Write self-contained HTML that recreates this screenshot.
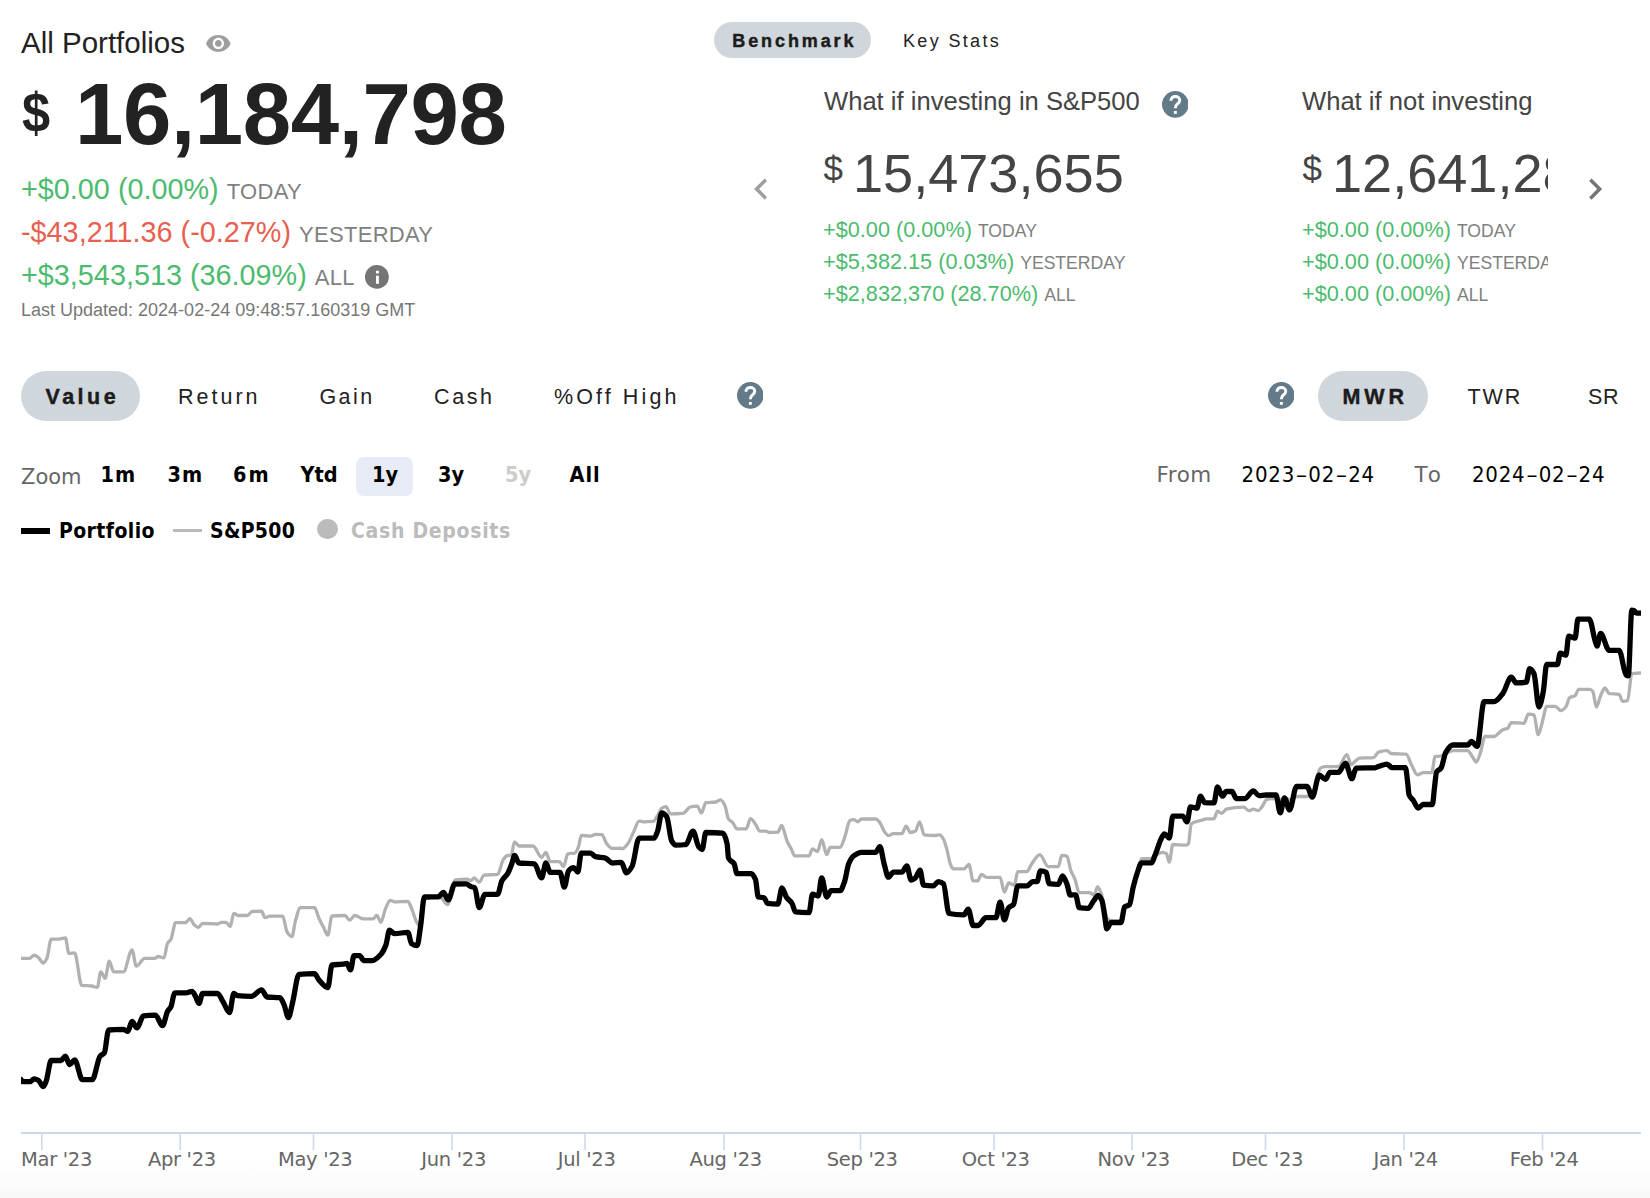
<!DOCTYPE html>
<html><head><meta charset="utf-8"><title>All Portfolios</title>
<style>
*{margin:0;padding:0;box-sizing:border-box}
html,body{width:1650px;height:1198px;overflow:hidden;background:#fff}
body{position:relative;font-family:"Liberation Sans",Arial,sans-serif;color:#222}
.a{position:absolute;white-space:nowrap;line-height:1}
.g{color:#4cbb6e}
.r{color:#e8604f}
.lab{color:#808080}
.pill{position:absolute;background:#d0d7dc;border-radius:999px}
.bk{-webkit-text-stroke:0.45px #1c1c1c}
.tab{font-family:"Liberation Sans",sans-serif;color:#222;font-size:21.5px;top:386.8px}
svg text{white-space:pre}
</style></head><body>
<div class="a" style="left:21px;top:28px;font-size:29.5px;color:#222">All Portfolios</div>
<svg class="a" style="left:206.1px;top:35px" width="24.7" height="16.8" viewBox="1 4.5 22 15"><path fill="#9e9e9e" d="M12 4.5C7 4.5 2.73 7.61 1 12c1.73 4.39 6 7.5 11 7.5s9.27-3.11 11-7.5c-1.73-4.39-6-7.5-11-7.5zM12 17c-2.76 0-5-2.24-5-5s2.24-5 5-5 5 2.24 5 5-2.24 5-5 5zm0-8c-1.66 0-3 1.34-3 3s1.34 3 3 3 3-1.34 3-3-1.34-3-3-3z"/></svg>

<div class="a" style="left:21.5px;top:86px;font-size:55px;font-weight:bold;color:#222;transform:scaleX(0.92);transform-origin:0 0">$</div>
<div class="a" style="left:75px;top:70.4px;font-size:87px;font-weight:bold;color:#222;letter-spacing:-0.4px">16,184,798</div>

<div class="a" style="left:21px;top:175.4px;font-size:28.8px"><span class="g">+$0.00 (0.00%)</span> <span class="lab" style="font-size:22px;letter-spacing:0.3px">TODAY</span></div>
<div class="a" style="left:21px;top:218.2px;font-size:28.8px"><span class="r">-$43,211.36 (-0.27%)</span> <span class="lab" style="font-size:22px;letter-spacing:0.3px">YESTERDAY</span></div>
<div class="a" style="left:21px;top:261.2px;font-size:28.8px"><span class="g">+$3,543,513 (36.09%)</span> <span class="lab" style="font-size:22px;letter-spacing:0.3px">ALL</span></div>
<svg class="a" style="left:365.4px;top:265.3px" width="23.8" height="23.8" viewBox="0 0 23.8 23.8"><circle cx="11.9" cy="11.9" r="11.9" fill="#757575"/><rect x="11" y="5.7" width="2.9" height="2.8" fill="#fff"/><rect x="11" y="10.7" width="2.9" height="8.1" fill="#fff"/></svg>
<div class="a" style="left:21px;top:300.5px;font-size:18px;color:#777">Last Updated: 2024-02-24 09:48:57.160319 GMT</div>

<div class="pill" style="left:714px;top:22px;width:157px;height:36px"></div>
<div class="a bk" style="left:732.3px;top:31.6px;font-size:18px;font-weight:bold;letter-spacing:2.9px;color:#1c1c1c">Benchmark</div>
<div class="a" style="left:903px;top:31.6px;font-size:18px;letter-spacing:2.35px;color:#222">Key Stats</div>

<svg class="a" style="left:739.6px;top:168.4px" width="42.2" height="42.2" viewBox="0 0 24 24"><path d="M15.41 7.41L14 6l-6 6 6 6 1.41-1.41L10.83 12z" fill="#9e9e9e"/></svg>
<svg class="a" style="left:1573.6px;top:168.4px" width="42.2" height="42.2" viewBox="0 0 24 24"><path d="M10 6L8.59 7.41 13.17 12l-4.58 4.59L10 18l6-6z" fill="#757575"/></svg>

<div class="a" style="left:824px;top:89.4px;font-size:25.6px;color:#444">What if investing in S&amp;P500</div>
<svg class="a" style="left:1161.8px;top:91.1px" width="26.7" height="26.7" viewBox="0 0 20 20"><circle cx="10" cy="10" r="10" fill="#637a89"/><path d="M6.7,7.3 C6.7,5 8.3,4.1 10,4.1 C11.9,4.1 13.3,5.3 13.3,7 C13.3,8.6 12.2,9.3 11.2,10.1 C10.4,10.8 10,11.4 10,12.9" fill="none" stroke="#fff" stroke-width="2.2"/><rect x="8.9" y="15" width="2.2" height="2.1" fill="#fff"/></svg>
<div class="a" style="left:823.5px;top:151px;font-size:35px;color:#444">$</div>
<div class="a" style="left:853px;top:146px;font-size:54.1px;color:#444">15,473,655</div>
<div class="a" style="left:823px;top:219px;font-size:21.7px"><span class="g">+$0.00 (0.00%)</span> <span class="lab" style="font-size:17.6px">TODAY</span></div>
<div class="a" style="left:823px;top:251px;font-size:21.7px"><span class="g">+$5,382.15 (0.03%)</span> <span class="lab" style="font-size:17.6px">YESTERDAY</span></div>
<div class="a" style="left:823px;top:283px;font-size:21.7px"><span class="g">+$2,832,370 (28.70%)</span> <span class="lab" style="font-size:17.6px">ALL</span></div>

<div class="a" style="left:1302px;top:89.4px;font-size:25.6px;color:#444">What if not investing</div>
<div style="position:absolute;left:1300px;top:140px;width:248px;height:180px;overflow:hidden">
<div class="a" style="left:2.5px;top:11px;font-size:35px;color:#444">$</div>
<div class="a" style="left:32px;top:6px;font-size:54.1px;color:#444">12,641,288</div>
<div class="a" style="left:2px;top:79px;font-size:21.7px"><span class="g">+$0.00 (0.00%)</span> <span class="lab" style="font-size:17.6px">TODAY</span></div>
<div class="a" style="left:2px;top:111px;font-size:21.7px"><span class="g">+$0.00 (0.00%)</span> <span class="lab" style="font-size:17.6px">YESTERDAY</span></div>
<div class="a" style="left:2px;top:143px;font-size:21.7px"><span class="g">+$0.00 (0.00%)</span> <span class="lab" style="font-size:17.6px">ALL</span></div>
</div>

<div class="pill" style="left:21px;top:371px;width:119px;height:50px"></div>
<div class="a tab bk" style="left:45.5px;font-weight:bold;letter-spacing:3.5px;color:#1c1c1c">Value</div>
<div class="a tab" style="left:178px;letter-spacing:3px">Return</div>
<div class="a tab" style="left:319.5px;letter-spacing:2.4px">Gain</div>
<div class="a tab" style="left:434px;letter-spacing:2.6px">Cash</div>
<div class="a tab" style="left:554px;letter-spacing:3.1px">%Off High</div>
<svg class="a" style="left:736.8px;top:382.1px" width="26.7" height="26.7" viewBox="0 0 20 20"><circle cx="10" cy="10" r="10" fill="#637a89"/><path d="M6.7,7.3 C6.7,5 8.3,4.1 10,4.1 C11.9,4.1 13.3,5.3 13.3,7 C13.3,8.6 12.2,9.3 11.2,10.1 C10.4,10.8 10,11.4 10,12.9" fill="none" stroke="#fff" stroke-width="2.2"/><rect x="8.9" y="15" width="2.2" height="2.1" fill="#fff"/></svg>

<svg class="a" style="left:1267.7px;top:382.1px" width="26.7" height="26.7" viewBox="0 0 20 20"><circle cx="10" cy="10" r="10" fill="#637a89"/><path d="M6.7,7.3 C6.7,5 8.3,4.1 10,4.1 C11.9,4.1 13.3,5.3 13.3,7 C13.3,8.6 12.2,9.3 11.2,10.1 C10.4,10.8 10,11.4 10,12.9" fill="none" stroke="#fff" stroke-width="2.2"/><rect x="8.9" y="15" width="2.2" height="2.1" fill="#fff"/></svg>
<div class="pill" style="left:1318px;top:371px;width:110px;height:50px"></div>
<div class="a tab bk" style="left:1342.5px;font-weight:bold;letter-spacing:3.9px;color:#1c1c1c">MWR</div>
<div class="a tab" style="left:1467.5px;letter-spacing:1.85px">TWR</div>
<div class="a tab" style="left:1588px;letter-spacing:0.7px">SR</div>

<div style="position:absolute;left:356px;top:457px;width:57px;height:39px;background:#e6ebf5;border-radius:8px"></div>
<div style="position:absolute;left:21px;top:528px;width:29px;height:5.5px;background:#000"></div>
<div style="position:absolute;left:173px;top:529px;width:28.5px;height:3px;background:#bbb"></div>
<div style="position:absolute;left:317.3px;top:518.5px;width:20.5px;height:20.5px;border-radius:50%;background:#bbb"></div>

<div style="position:absolute;left:0;top:1162px;width:1650px;height:36px;background:linear-gradient(#fff,#f8f8f8)"></div>

<svg class="a" style="left:0;top:0" width="1650" height="1198" viewBox="0 0 1650 1198">
<g font-family="'DejaVu Sans', sans-serif" font-size="21" fill="#666"><text x="21" y="483.8">Zoom</text></g>
<g font-family="'DejaVu Sans Condensed', 'DejaVu Sans', sans-serif" font-weight="bold" font-size="21.5" fill="#000">
<text x="100.5" y="481.9" letter-spacing="1">1m</text><text x="167.5" y="481.9" letter-spacing="1">3m</text><text x="233" y="481.9" letter-spacing="2">6m</text><text x="300.5" y="481.9">Ytd</text><text x="372" y="481.9">1y</text><text x="438" y="481.9">3y</text><text x="505" y="481.9" fill="#ccc">5y</text><text x="569.5" y="481.9" letter-spacing="1">All</text>
</g>
<g font-family="'DejaVu Sans', sans-serif" font-size="21.5" fill="#666"><text x="1156.5" y="482.1" letter-spacing="0.5">From</text><text x="1414.5" y="482.1" style="font-kerning:none">To</text></g>
<g font-family="'DejaVu Sans Condensed', 'DejaVu Sans', sans-serif" font-size="22" fill="#000"><text y="482.1"><tspan x="1241.5" letter-spacing="0.8">2023</tspan><tspan x="1296.0" dy="3" font-family="IPAGothic, 'DejaVu Sans', sans-serif">-</tspan><tspan x="1308.3" dy="-3" letter-spacing="0.8">02</tspan><tspan x="1336.0" dy="3" font-family="IPAGothic, 'DejaVu Sans', sans-serif">-</tspan><tspan x="1348.2" dy="-3" letter-spacing="0.8">24</tspan></text><text y="482.1"><tspan x="1471.9" letter-spacing="0.8">2024</tspan><tspan x="1526.4" dy="3" font-family="IPAGothic, 'DejaVu Sans', sans-serif">-</tspan><tspan x="1538.7" dy="-3" letter-spacing="0.8">02</tspan><tspan x="1566.4" dy="3" font-family="IPAGothic, 'DejaVu Sans', sans-serif">-</tspan><tspan x="1578.6" dy="-3" letter-spacing="0.8">24</tspan></text></g>
<g font-family="'DejaVu Sans Condensed', 'DejaVu Sans', sans-serif" font-weight="bold" font-size="21"><text x="59" y="537.7" letter-spacing="0.4" fill="#000">Portfolio</text><text x="210" y="537.7" letter-spacing="0.3" fill="#000">S&amp;P500</text><text x="351" y="537.7" letter-spacing="0.7" fill="#bbb">Cash Deposits</text></g>
<line x1="21" y1="1133" x2="1641" y2="1133" stroke="#ccd6eb" stroke-width="2"/>
<line x1="41.8" y1="1133" x2="41.8" y2="1150" stroke="#ccd6eb" stroke-width="1.5"/>
<line x1="180.2" y1="1133" x2="180.2" y2="1150" stroke="#ccd6eb" stroke-width="1.5"/>
<line x1="313.5" y1="1133" x2="313.5" y2="1150" stroke="#ccd6eb" stroke-width="1.5"/>
<line x1="452" y1="1133" x2="452" y2="1150" stroke="#ccd6eb" stroke-width="1.5"/>
<line x1="585" y1="1133" x2="585" y2="1150" stroke="#ccd6eb" stroke-width="1.5"/>
<line x1="724" y1="1133" x2="724" y2="1150" stroke="#ccd6eb" stroke-width="1.5"/>
<line x1="860.5" y1="1133" x2="860.5" y2="1150" stroke="#ccd6eb" stroke-width="1.5"/>
<line x1="994" y1="1133" x2="994" y2="1150" stroke="#ccd6eb" stroke-width="1.5"/>
<line x1="1132" y1="1133" x2="1132" y2="1150" stroke="#ccd6eb" stroke-width="1.5"/>
<line x1="1265.5" y1="1133" x2="1265.5" y2="1150" stroke="#ccd6eb" stroke-width="1.5"/>
<line x1="1404" y1="1133" x2="1404" y2="1150" stroke="#ccd6eb" stroke-width="1.5"/>
<line x1="1542.5" y1="1133" x2="1542.5" y2="1150" stroke="#ccd6eb" stroke-width="1.5"/>
<defs><clipPath id="pc"><rect x="21" y="540" width="1620" height="592"/></clipPath></defs>
<g clip-path="url(#pc)"><path fill="none" stroke="#b1b1b1" stroke-width="3.3" stroke-linejoin="round" stroke-linecap="round" d="M21.0,958.3C24.0,958.3 26.9,958.3 29.9,958.3C31.3,958.3 32.7,955.1 34.1,955.1C35.3,955.1 36.5,956.1 37.7,956.9C39.6,958.2 41.5,963.0 43.4,963.0C44.6,963.0 45.7,960.7 46.9,958.3C48.3,955.4 49.8,939.2 51.2,939.2C53.3,939.2 55.5,939.2 57.6,939.2C60.2,939.2 62.8,938.0 65.4,938.0C66.6,938.0 67.7,953.4 68.9,953.4C70.8,953.4 72.7,952.9 74.6,952.9C77.0,952.9 79.3,985.0 81.7,985.3C85.0,985.8 88.3,985.6 91.6,986.0C93.5,986.2 95.4,987.4 97.3,987.4C98.5,987.4 99.6,971.8 100.8,971.8C102.2,971.8 103.7,978.2 105.1,978.2C106.5,978.2 107.9,961.2 109.3,961.2C110.7,961.2 112.2,971.8 113.6,971.8C116.9,971.8 120.2,971.8 123.5,971.8C126.3,971.8 129.2,949.8 132.0,949.8C133.4,949.8 134.9,966.1 136.3,966.1C139.1,966.1 142.0,958.3 144.8,958.3C148.1,958.3 151.4,958.3 154.7,958.3C155.9,958.3 157.1,956.5 158.3,956.5C160.2,956.5 162.0,957.9 163.9,957.9C165.1,957.9 166.3,945.6 167.5,943.4C168.7,941.2 169.8,941.3 171.0,939.2C172.5,936.5 174.1,922.6 175.6,922.6C178.9,922.6 182.3,922.6 185.6,922.6C187.0,922.6 188.4,918.6 189.8,918.6C191.2,918.6 192.7,923.4 194.1,924.7C195.5,926.0 196.9,927.5 198.3,927.5C199.7,927.5 201.2,923.3 202.6,923.3C207.6,923.3 212.5,924.0 217.5,924.0C218.9,924.0 220.3,922.3 221.7,922.3C223.1,922.3 224.6,922.3 226.0,922.3C227.4,922.3 228.8,926.5 230.2,926.5C231.4,926.5 232.6,913.3 233.8,913.3C235.2,913.3 236.6,915.5 238.0,915.5C241.1,915.5 244.2,915.5 247.3,915.5C248.9,915.5 250.6,911.6 252.2,911.5C255.3,911.3 258.4,911.2 261.5,911.2C262.7,911.2 263.8,917.6 265.0,917.6C266.7,917.6 268.3,916.2 270.0,916.2C274.2,916.2 278.5,916.2 282.7,916.2C284.1,916.2 285.6,929.6 287.0,931.8C288.7,934.4 290.3,936.7 292.0,936.7C293.2,936.7 294.3,924.3 295.5,920.4C297.2,914.8 298.8,907.7 300.5,907.7C305.2,907.7 309.9,907.7 314.6,907.7C316.0,907.7 317.5,915.2 318.9,918.3C320.4,921.6 322.0,924.4 323.5,927.3C324.9,930.0 326.4,935.1 327.8,935.1C329.2,935.1 330.6,916.1 332.0,916.0C336.3,915.6 340.5,915.5 344.8,915.5C346.5,915.5 348.1,920.2 349.8,920.2C351.4,920.2 353.1,915.5 354.7,915.5C357.5,915.5 360.4,918.8 363.2,918.8C366.5,918.8 369.9,918.8 373.2,918.8C374.4,918.8 375.5,915.5 376.7,915.5C378.1,915.5 379.6,922.3 381.0,922.3C382.4,922.3 383.8,912.8 385.2,909.6C386.9,905.8 388.5,900.4 390.2,900.4C391.6,900.4 393.0,901.8 394.4,901.8C398.9,901.8 403.4,901.3 407.9,901.3C409.1,901.3 410.3,905.5 411.5,908.2C413.1,911.8 414.8,918.8 416.4,921.6C417.5,923.5 418.7,926.0 419.8,926.0C421.1,926.0 422.3,899.4 423.6,899.0C429.1,897.4 434.5,897.0 440.0,897.0C442.5,897.0 445.1,904.6 447.6,904.6C450.2,904.6 452.8,880.1 455.4,879.8C459.2,879.3 463.0,879.1 466.8,879.1C468.2,879.1 469.6,880.5 471.0,880.5C472.1,880.5 473.1,877.9 474.2,877.9C475.9,877.9 477.5,882.2 479.2,882.2C480.8,882.2 482.5,875.3 484.1,875.1C488.6,874.6 493.1,874.9 497.6,874.4C499.5,874.2 501.4,862.1 503.3,859.5C504.7,857.6 506.2,855.7 507.6,855.5C508.8,855.3 509.9,855.4 511.1,855.2C512.3,855.0 513.4,841.8 514.6,841.8C516.0,841.8 517.5,846.0 518.9,846.0C523.6,846.0 528.4,846.0 533.1,846.0C535.9,846.0 538.8,857.4 541.6,857.4C543.0,857.4 544.5,852.4 545.9,852.4C547.3,852.4 548.7,861.6 550.1,861.6C553.2,861.6 556.2,861.6 559.3,861.6C560.7,861.6 562.2,866.6 563.6,866.6C565.0,866.6 566.4,854.1 567.8,853.8C570.2,853.3 572.5,853.6 574.9,853.1C576.1,852.9 577.3,849.7 578.5,846.7C579.4,844.4 580.4,835.4 581.3,835.4C584.4,835.4 587.4,836.1 590.5,836.1C592.2,836.1 593.8,834.3 595.5,834.3C597.6,834.3 599.8,834.4 601.9,834.7C603.5,834.9 605.2,841.9 606.8,843.9C608.5,845.9 610.1,848.4 611.8,848.4C614.9,848.4 617.9,848.2 621.0,848.2C621.4,848.2 621.7,848.8 622.1,848.8C624.0,848.8 625.9,846.1 627.8,843.8C629.7,841.5 631.5,836.2 633.4,832.5C635.3,828.7 637.2,821.1 639.1,821.1C640.5,821.1 642.0,821.8 643.4,821.8C646.7,821.8 650.0,821.7 653.3,821.4C654.7,821.3 656.2,817.7 657.6,815.5C659.0,813.3 660.4,808.9 661.8,808.1C663.2,807.3 664.7,806.7 666.1,806.7C667.5,806.7 668.9,813.8 670.3,813.8C674.6,813.8 678.8,813.6 683.1,813.3C685.5,813.1 687.8,807.5 690.2,807.0C692.6,806.5 694.9,806.2 697.3,806.2C698.7,806.2 700.1,812.9 701.5,812.9C702.9,812.9 704.4,802.9 705.8,802.7C709.1,802.2 712.4,802.4 715.7,802.0C717.4,801.8 719.0,799.9 720.7,799.9C722.1,799.9 723.5,802.7 724.9,805.5C726.1,807.9 727.3,817.3 728.5,819.0C729.9,821.0 731.3,821.1 732.7,822.6C734.1,824.1 735.6,828.9 737.0,828.9C740.1,828.9 743.1,828.9 746.2,828.9C747.6,828.9 749.1,818.6 750.5,818.6C752.1,818.6 753.8,821.8 755.4,824.0C756.8,825.9 758.3,831.1 759.7,831.1C761.6,831.1 763.5,831.1 765.4,831.1C766.8,831.1 768.2,832.5 769.6,832.5C772.3,832.5 775.1,832.4 777.8,832.2C779.1,832.1 780.4,825.4 781.7,825.4C782.8,825.4 783.8,830.7 784.9,833.9C785.6,836.0 786.3,839.3 787.0,841.0C788.4,844.5 789.8,846.1 791.2,848.8C792.4,851.1 793.6,855.9 794.8,855.9C799.5,855.9 804.3,855.9 809.0,855.9C810.2,855.9 811.3,848.8 812.5,848.8C814.2,848.8 815.8,851.6 817.5,851.6C818.9,851.6 820.3,839.6 821.7,839.6C823.4,839.6 825.0,854.5 826.7,854.5C827.9,854.5 829.0,847.4 830.2,847.4C833.5,847.4 836.9,847.4 840.2,847.4C841.6,847.4 843.0,841.8 844.4,838.2C846.3,833.4 848.2,821.1 850.1,820.4C851.3,820.0 852.5,819.7 853.7,819.7C855.1,819.7 856.5,821.8 857.9,821.8C859.1,821.8 860.3,819.0 861.5,819.0C866.2,819.0 870.9,819.0 875.6,819.0C877.0,819.0 878.5,820.9 879.9,822.6C881.3,824.3 882.7,829.2 884.1,831.1C885.5,833.1 887.0,835.6 888.4,835.6C890.1,835.6 891.7,833.6 893.4,833.6C896.2,833.6 899.1,833.6 901.9,833.6C903.3,833.6 904.7,826.1 906.1,826.1C907.5,826.1 909.0,832.5 910.4,832.5C912.1,832.5 913.7,831.9 915.4,831.1C916.8,830.4 918.2,821.8 919.6,821.8C921.1,821.8 922.7,834.6 924.2,834.8C927.8,835.3 931.3,835.5 934.9,835.5C936.5,835.5 938.2,834.8 939.8,834.8C941.0,834.8 942.2,837.0 943.4,839.0C944.6,841.0 945.7,845.5 946.9,849.6C948.1,853.8 949.3,861.9 950.5,864.5C951.4,866.6 952.4,868.8 953.3,868.8C956.8,868.8 960.4,868.8 963.9,868.8C965.6,868.8 967.2,864.5 968.9,864.5C970.3,864.5 971.8,880.9 973.2,880.9C974.6,880.9 976.0,880.9 977.4,880.9C978.8,880.9 980.3,874.5 981.7,874.5C983.3,874.5 985.0,877.3 986.6,877.3C991.1,877.3 995.6,877.3 1000.1,877.3C1001.5,877.3 1003.0,892.2 1004.4,892.2C1005.8,892.2 1007.2,883.0 1008.6,883.0C1010.5,883.0 1012.4,885.1 1014.3,885.1C1015.5,885.1 1016.6,871.6 1017.8,871.6C1020.9,871.6 1024.0,871.6 1027.1,871.6C1028.5,871.6 1029.9,866.5 1031.3,864.5C1034.1,860.5 1037.0,854.6 1039.8,854.6C1042.6,854.6 1045.5,866.7 1048.3,866.7C1051.6,866.7 1055.0,866.7 1058.3,866.7C1059.5,866.7 1060.6,855.3 1061.8,855.3C1063.5,855.3 1065.1,855.5 1066.8,856.0C1068.2,856.4 1069.6,867.2 1071.0,870.9C1072.3,874.4 1073.7,876.0 1075.0,879.4C1076.4,883.0 1077.8,892.7 1079.2,892.7C1082.5,892.7 1085.8,892.7 1089.1,892.7C1090.8,892.7 1092.4,894.8 1094.1,894.8C1095.3,894.8 1096.4,887.0 1097.6,887.0C1098.8,887.0 1100.0,890.6 1101.2,893.4C1103.3,898.5 1105.5,917.0 1107.6,918.9C1109.0,920.1 1110.4,921.1 1111.8,921.1C1114.9,921.1 1117.9,921.1 1121.0,921.0C1122.2,921.0 1123.4,906.9 1124.6,906.0C1126.2,904.7 1127.9,905.3 1129.5,904.0C1130.7,903.1 1131.9,892.5 1133.1,887.7C1134.5,882.1 1135.9,877.6 1137.3,872.8C1138.7,867.9 1140.2,858.7 1141.6,858.7C1144.4,858.7 1147.3,858.7 1150.1,858.7C1152.0,858.7 1153.9,856.0 1155.8,855.1C1158.2,853.9 1160.5,852.3 1162.9,852.3C1164.1,852.3 1165.2,852.9 1166.4,853.7C1167.4,854.4 1168.3,862.2 1169.3,862.2C1170.5,862.2 1171.6,844.5 1172.8,844.5C1177.1,844.5 1181.3,845.2 1185.6,845.2C1186.5,845.2 1187.5,844.7 1188.4,843.8C1189.3,842.9 1190.3,824.7 1191.2,823.9C1194.5,821.2 1197.9,821.4 1201.2,820.4C1203.1,819.8 1204.9,818.9 1206.8,818.9C1209.2,818.9 1211.5,818.9 1213.9,818.9C1215.1,818.9 1216.3,811.1 1217.5,811.1C1218.9,811.1 1220.3,813.3 1221.7,813.3C1223.2,813.3 1224.8,809.6 1226.3,809.2C1232.0,807.8 1237.7,807.1 1243.4,807.1C1245.3,807.1 1247.1,810.6 1249.0,810.6C1250.4,810.6 1251.9,809.2 1253.3,809.2C1255.0,809.2 1256.6,810.6 1258.3,810.6C1259.5,810.6 1260.6,808.5 1261.8,807.1C1263.5,805.1 1265.1,799.7 1266.8,799.3C1268.4,798.9 1270.1,798.6 1271.7,798.6C1274.5,798.6 1277.2,799.5 1280.0,799.5C1283.3,799.5 1286.7,799.5 1290.0,799.5C1292.4,799.5 1294.9,796.5 1297.3,796.5C1300.6,796.5 1303.9,796.5 1307.2,796.5C1309.3,796.5 1311.4,795.6 1313.5,794.0C1315.2,792.7 1316.8,776.3 1318.5,772.0C1319.2,770.3 1319.8,768.5 1320.5,768.1C1322.0,767.2 1323.4,766.7 1324.9,766.7C1329.4,766.7 1333.9,766.7 1338.4,766.7C1341.2,766.7 1344.1,754.6 1346.9,754.6C1348.3,754.6 1349.8,764.5 1351.2,764.5C1352.6,764.5 1354.0,762.0 1355.4,761.0C1356.8,760.0 1358.3,758.3 1359.7,758.2C1364.3,757.8 1368.9,758.1 1373.5,757.7C1375.2,757.6 1376.8,752.6 1378.5,752.1C1381.3,751.2 1384.2,750.6 1387.0,750.6C1388.4,750.6 1389.8,753.4 1391.2,753.5C1396.2,754.0 1401.1,753.7 1406.1,754.2C1408.0,754.4 1409.9,762.1 1411.8,765.5C1413.7,768.9 1415.6,774.8 1417.5,774.8C1419.4,774.8 1421.3,772.6 1423.2,772.6C1426.0,772.6 1428.9,772.6 1431.7,772.6C1432.9,772.6 1434.0,756.3 1435.2,756.3C1436.4,756.3 1437.6,756.3 1438.8,756.3C1442.1,756.3 1445.4,753.4 1448.7,752.1C1450.1,751.6 1451.5,750.6 1452.9,750.6C1457.9,750.6 1462.8,750.6 1467.8,750.6C1469.2,750.6 1470.7,754.4 1472.1,756.3C1473.5,758.2 1474.9,762.0 1476.3,762.0C1477.7,762.0 1479.2,756.1 1480.6,752.1C1482.0,748.1 1483.5,736.5 1484.9,736.5C1488.0,736.5 1491.0,736.5 1494.1,736.5C1497.0,736.5 1499.9,730.9 1502.8,729.7C1504.4,729.0 1506.1,729.1 1507.7,728.3C1508.9,727.7 1510.1,722.6 1511.3,722.6C1515.5,722.6 1519.8,723.3 1524.0,723.3C1525.4,723.3 1526.9,714.1 1528.3,714.1C1530.2,714.1 1532.1,714.3 1534.0,714.8C1535.4,715.2 1536.8,734.7 1538.2,734.7C1539.6,734.7 1541.1,726.0 1542.5,721.2C1543.9,716.5 1545.3,706.3 1546.7,706.3C1549.5,706.3 1552.4,706.3 1555.2,706.3C1557.1,706.3 1559.0,710.6 1560.9,710.6C1562.6,710.6 1564.2,708.9 1565.9,707.0C1567.1,705.6 1568.2,698.6 1569.4,697.8C1571.3,696.5 1573.2,696.9 1575.1,695.7C1576.3,694.9 1577.5,689.3 1578.7,689.3C1582.5,689.3 1586.2,689.3 1590.0,689.3C1590.9,689.3 1591.9,690.2 1592.8,691.4C1594.0,692.9 1595.2,707.0 1596.4,707.0C1597.8,707.0 1599.2,698.7 1600.6,695.7C1602.0,692.6 1603.5,687.9 1604.9,687.9C1606.3,687.9 1607.7,693.3 1609.1,693.5C1612.4,694.1 1615.8,693.7 1619.1,694.3C1620.3,694.5 1621.4,701.3 1622.6,701.3C1624.3,701.3 1625.9,701.1 1627.6,700.6C1629.0,700.2 1630.4,674.0 1631.8,673.7C1634.7,673.2 1637.5,673.2 1640.4,673.0"/>
<path fill="none" stroke="#000" stroke-width="5.3" stroke-linejoin="round" stroke-linecap="round" d="M21.0,1079.5C21.5,1080.2 22.1,1081.7 22.6,1081.7C25.0,1081.7 27.5,1081.7 29.9,1081.7C31.3,1081.7 32.7,1078.9 34.1,1078.9C35.5,1078.9 37.0,1079.6 38.4,1080.3C40.1,1081.2 41.7,1086.7 43.4,1086.7C44.3,1086.7 45.3,1083.5 46.2,1081.0C47.9,1076.6 49.5,1060.5 51.2,1060.5C54.5,1060.5 57.8,1060.5 61.1,1060.5C62.5,1060.5 64.0,1056.2 65.4,1056.2C66.8,1056.2 68.2,1064.7 69.6,1064.7C71.3,1064.7 72.9,1059.8 74.6,1059.8C77.2,1059.8 79.8,1079.6 82.4,1079.6C85.7,1079.6 89.0,1079.6 92.3,1079.6C94.9,1079.6 97.5,1059.4 100.1,1056.2C101.5,1054.5 103.0,1054.7 104.4,1052.7C105.8,1050.7 107.2,1030.2 108.6,1030.0C113.6,1029.4 118.5,1029.3 123.5,1029.3C124.9,1029.3 126.4,1031.4 127.8,1031.4C129.2,1031.4 130.6,1021.5 132.0,1021.5C133.7,1021.5 135.3,1027.8 137.0,1027.8C139.1,1027.8 141.3,1016.1 143.4,1015.8C147.4,1015.3 151.4,1015.1 155.4,1015.1C157.8,1015.1 160.1,1025.7 162.5,1025.7C164.2,1025.7 165.8,1014.6 167.5,1011.5C168.7,1009.4 169.8,1009.0 171.0,1006.6C172.2,1004.2 173.4,993.5 174.6,993.1C175.2,992.9 175.7,992.8 176.3,992.8C179.6,992.8 183.0,992.8 186.3,992.8C188.2,992.8 190.1,991.3 192.0,991.3C193.2,991.3 194.3,994.3 195.5,996.3C196.7,998.3 197.8,1003.4 199.0,1003.4C200.2,1003.4 201.4,993.5 202.6,993.5C207.6,993.5 212.5,993.5 217.5,993.5C219.4,993.5 221.3,999.0 223.2,1002.0C225.3,1005.3 227.4,1012.6 229.5,1012.6C230.9,1012.6 232.4,993.5 233.8,993.5C235.0,993.5 236.1,995.5 237.3,995.6C242.0,996.1 246.8,996.3 251.5,996.3C254.8,996.3 258.2,989.9 261.5,989.9C263.4,989.9 265.2,996.8 267.1,997.0C271.4,997.5 275.6,997.2 279.9,997.7C281.3,997.9 282.7,1001.8 284.1,1004.8C285.5,1007.9 287.0,1017.6 288.4,1017.6C289.8,1017.6 291.3,1007.7 292.7,1002.0C294.8,993.7 296.9,974.5 299.0,974.3C304.2,973.8 309.4,973.6 314.6,973.6C316.0,973.6 317.5,978.4 318.9,980.0C321.9,983.3 324.8,987.6 327.8,987.6C329.2,987.6 330.6,965.1 332.0,964.9C335.6,964.4 339.1,964.6 342.7,964.2C344.1,964.1 345.5,963.5 346.9,963.5C348.1,963.5 349.3,969.9 350.5,969.9C351.7,969.9 352.8,955.7 354.0,955.7C355.9,955.7 357.8,955.7 359.7,955.7C361.1,955.7 362.5,960.6 363.9,960.6C366.7,960.6 369.6,960.6 372.4,960.6C375.3,960.6 378.1,957.5 381.0,954.3C382.6,952.5 384.3,949.3 385.9,945.0C387.1,941.8 388.3,930.1 389.5,930.1C391.1,930.1 392.8,933.7 394.4,933.7C398.9,933.7 403.4,932.3 407.9,932.3C409.1,932.3 410.3,942.7 411.5,943.6C413.4,944.9 415.2,945.7 417.1,945.7C418.3,945.7 419.4,933.5 420.6,926.0C421.9,917.8 423.1,897.0 424.4,897.0C429.1,896.8 433.7,897.0 438.4,896.8C440.1,896.7 441.7,892.3 443.4,892.3C445.0,892.3 446.7,899.9 448.3,899.9C450.4,899.9 452.6,884.1 454.7,884.0C458.5,883.9 462.3,883.8 466.1,883.8C467.7,883.8 469.4,885.9 471.0,886.6C472.3,887.1 473.6,887.1 474.9,887.9C476.3,888.8 477.8,907.7 479.2,907.7C481.1,907.7 483.0,894.3 484.9,894.3C489.1,894.3 493.4,894.3 497.6,894.3C499.0,894.3 500.5,883.4 501.9,880.8C503.8,877.3 505.7,876.8 507.6,873.7C509.0,871.4 510.4,867.5 511.8,863.8C512.7,861.3 513.7,855.5 514.6,855.5C516.0,855.5 517.5,862.8 518.9,863.0C524.1,863.6 529.3,863.2 534.5,863.8C536.9,864.1 539.2,877.9 541.6,877.9C543.0,877.9 544.5,863.0 545.9,863.0C547.3,863.0 548.7,872.3 550.1,872.3C553.4,872.3 556.7,872.3 560.0,872.3C561.4,872.3 562.9,887.2 564.3,887.2C565.7,887.2 567.1,872.5 568.5,870.9C570.2,869.0 571.8,867.7 573.5,867.7C574.9,867.7 576.4,872.0 577.8,872.0C579.0,872.0 580.1,853.1 581.3,853.1C584.4,853.1 587.4,853.1 590.5,853.1C592.2,853.1 593.8,856.3 595.5,856.7C598.8,857.5 602.1,857.3 605.4,858.1C607.8,858.7 610.1,863.0 612.5,863.0C615.5,863.0 618.4,862.3 621.4,862.3C623.0,862.3 624.7,872.9 626.3,872.9C628.2,872.9 630.1,869.8 632.0,866.5C634.4,862.4 636.7,838.2 639.1,838.2C644.1,838.2 649.0,838.2 654.0,838.2C655.2,838.2 656.4,834.3 657.6,831.1C659.0,827.3 660.4,812.9 661.8,812.9C663.5,812.9 665.1,814.6 666.8,816.9C668.4,819.2 670.1,838.4 671.7,841.0C673.1,843.3 674.6,845.2 676.0,845.2C679.3,845.2 682.6,845.0 685.9,844.5C688.3,844.2 690.6,831.1 693.0,831.1C694.9,831.1 696.8,844.4 698.7,846.7C699.9,848.1 701.0,849.5 702.2,849.5C703.4,849.5 704.6,832.5 705.8,832.5C711.5,832.5 717.1,832.6 722.8,833.2C724.2,833.3 725.7,837.5 727.1,843.8C727.6,845.9 728.0,857.0 728.5,858.0C730.4,862.1 732.2,860.6 734.1,863.7C735.1,865.3 736.0,873.6 737.0,873.6C741.7,873.6 746.5,873.6 751.2,873.6C752.6,873.6 754.0,876.1 755.4,879.3C756.4,881.5 757.3,896.7 758.3,897.0C760.2,897.5 762.1,897.2 764.0,897.7C765.2,898.0 766.3,903.2 767.5,903.4C770.9,903.9 774.4,904.1 777.8,904.1C779.2,904.1 780.6,887.8 782.0,887.8C783.4,887.8 784.9,894.9 786.3,897.0C788.2,899.8 790.1,900.4 792.0,903.4C793.2,905.2 794.3,911.8 795.5,911.9C800.0,912.5 804.5,912.6 809.0,912.6C810.2,912.6 811.3,894.2 812.5,894.2C814.4,894.2 816.3,896.0 818.2,896.0C819.4,896.0 820.5,877.9 821.7,877.9C823.4,877.9 825.0,897.0 826.7,897.0C828.1,897.0 829.6,890.6 831.0,890.6C834.1,890.6 837.1,890.6 840.2,890.6C841.6,890.6 843.0,885.9 844.4,882.1C845.8,878.2 847.3,867.0 848.7,863.7C850.4,859.8 852.0,857.1 853.7,855.9C856.3,854.0 858.9,852.3 861.5,852.3C866.2,852.3 870.9,852.3 875.6,852.3C877.0,852.3 878.5,846.7 879.9,846.7C881.3,846.7 882.7,858.7 884.1,863.7C885.5,868.8 887.0,877.2 888.4,877.2C890.1,877.2 891.7,872.2 893.4,872.2C896.2,872.2 899.1,872.2 901.9,872.2C903.5,872.2 905.2,865.8 906.8,865.8C908.2,865.8 909.7,880.0 911.1,880.0C912.5,880.0 914.0,879.0 915.4,877.9C916.9,876.7 918.5,870.2 920.0,870.2C921.2,870.2 922.3,884.9 923.5,885.1C926.8,885.6 930.1,885.8 933.4,885.8C935.1,885.8 936.7,881.6 938.4,881.6C940.1,881.6 941.7,882.4 943.4,883.7C945.3,885.1 947.1,913.1 949.0,913.5C954.0,914.6 958.9,914.9 963.9,914.9C965.3,914.9 966.8,909.2 968.2,909.2C969.9,909.2 971.5,925.5 973.2,925.5C974.8,925.5 976.5,925.5 978.1,925.5C980.7,925.5 983.3,917.7 985.9,917.7C989.2,917.7 992.6,917.7 995.9,917.7C997.3,917.7 998.7,902.1 1000.1,902.1C1001.5,902.1 1003.0,919.9 1004.4,919.9C1005.8,919.9 1007.2,909.4 1008.6,907.8C1010.3,905.9 1011.9,906.4 1013.6,904.3C1015.0,902.6 1016.4,885.8 1017.8,885.8C1020.9,885.8 1024.0,885.8 1027.1,885.8C1029.0,885.8 1030.8,881.6 1032.7,881.6C1034.1,881.6 1035.6,881.6 1037.0,881.6C1038.2,881.6 1039.3,870.9 1040.5,870.9C1042.4,870.9 1044.3,871.3 1046.2,872.3C1047.1,872.8 1048.1,883.5 1049.0,883.7C1052.1,884.3 1055.2,884.4 1058.3,884.4C1059.7,884.4 1061.1,875.9 1062.5,875.9C1063.9,875.9 1065.4,880.3 1066.8,883.7C1068.0,886.4 1069.1,895.0 1070.3,895.0C1072.1,895.0 1073.8,894.8 1075.6,894.8C1076.8,894.8 1078.0,907.4 1079.2,907.6C1082.3,908.1 1085.3,908.3 1088.4,908.3C1090.1,908.3 1091.7,903.3 1093.4,901.2C1095.0,899.1 1096.7,895.5 1098.3,895.5C1099.5,895.5 1100.7,897.8 1101.9,900.5C1102.8,902.6 1103.8,910.7 1104.7,916.1C1105.4,920.2 1106.1,928.9 1106.8,928.9C1108.2,928.9 1109.7,922.5 1111.1,922.5C1114.4,922.5 1117.7,922.5 1121.0,922.5C1122.2,922.5 1123.4,907.9 1124.6,906.9C1126.2,905.6 1127.9,906.1 1129.5,904.8C1130.7,903.8 1131.9,892.6 1133.1,887.7C1134.5,882.0 1135.9,876.7 1137.3,872.8C1138.7,868.8 1140.2,862.9 1141.6,862.9C1144.9,862.9 1148.2,862.9 1151.5,862.9C1152.7,862.9 1153.9,857.9 1155.1,855.1C1157.2,850.1 1159.4,842.1 1161.5,838.1C1162.4,836.3 1163.4,833.8 1164.3,833.8C1166.0,833.8 1167.6,838.1 1169.3,838.1C1170.5,838.1 1171.6,816.1 1172.8,816.1C1176.1,816.1 1179.4,816.1 1182.7,816.1C1184.1,816.1 1185.6,821.8 1187.0,821.8C1188.2,821.8 1189.3,806.9 1190.5,806.9C1192.6,806.9 1194.8,808.3 1196.9,808.3C1198.1,808.3 1199.3,796.2 1200.5,796.2C1201.9,796.2 1203.3,802.5 1204.7,802.6C1207.8,802.8 1210.8,802.9 1213.9,802.9C1215.1,802.9 1216.3,787.0 1217.5,787.0C1219.1,787.0 1220.8,796.2 1222.4,796.2C1223.7,796.2 1225.0,791.5 1226.3,791.5C1228.2,791.5 1230.1,791.5 1232.0,791.5C1233.4,791.5 1234.9,798.6 1236.3,798.6C1239.1,798.6 1242.0,798.6 1244.8,798.6C1247.6,798.6 1250.5,790.8 1253.3,790.8C1255.2,790.8 1257.1,795.7 1259.0,795.7C1261.4,795.7 1263.7,795.0 1266.1,795.0C1269.4,795.0 1272.7,795.0 1276.0,795.0C1277.4,795.0 1278.8,812.8 1280.2,812.8C1281.6,812.8 1283.1,797.9 1284.5,797.9C1286.2,797.9 1287.8,809.9 1289.5,809.9C1291.9,809.9 1294.2,786.5 1296.6,786.5C1300.1,786.5 1303.7,786.5 1307.2,786.5C1308.9,786.5 1310.5,797.2 1312.2,797.2C1314.6,797.2 1316.9,775.2 1319.3,775.2C1321.4,775.2 1323.5,779.4 1325.6,779.4C1327.0,779.4 1328.5,772.3 1329.9,772.3C1332.7,772.3 1335.6,772.3 1338.4,772.3C1340.8,772.3 1343.1,763.1 1345.5,763.1C1347.6,763.1 1349.8,778.7 1351.9,778.7C1353.3,778.7 1354.7,768.2 1356.1,768.1C1362.4,767.8 1368.7,768.0 1375.0,767.8C1376.4,767.7 1377.8,766.6 1379.2,766.2C1381.8,765.4 1384.4,764.1 1387.0,764.1C1388.7,764.1 1390.3,767.7 1392.0,767.7C1396.5,767.7 1400.9,767.7 1405.4,767.7C1406.1,767.7 1406.9,776.2 1407.6,781.8C1408.1,785.4 1408.5,793.3 1409.0,794.6C1410.4,798.4 1411.8,798.3 1413.2,800.3C1414.9,802.7 1416.5,808.1 1418.2,808.1C1419.9,808.1 1421.5,804.5 1423.2,804.5C1426.3,804.5 1429.3,804.5 1432.4,804.5C1433.1,804.5 1433.8,792.9 1434.5,787.5C1435.2,782.1 1435.9,773.0 1436.6,771.9C1438.0,769.6 1439.5,770.2 1440.9,768.4C1442.6,766.3 1444.2,754.8 1445.9,752.1C1448.2,748.4 1450.6,745.0 1452.9,745.0C1457.9,745.0 1462.8,745.0 1467.8,745.0C1469.0,745.0 1470.2,741.4 1471.4,741.4C1473.3,741.4 1475.2,746.4 1477.1,746.4C1479.4,746.4 1481.8,701.7 1484.1,701.7C1487.4,701.7 1490.8,701.7 1494.1,701.7C1497.0,701.7 1499.9,697.2 1502.8,693.5C1505.6,689.9 1508.5,677.2 1511.3,677.2C1512.9,677.2 1514.6,682.9 1516.2,682.9C1519.5,682.9 1522.9,682.7 1526.2,682.2C1527.4,682.0 1528.5,668.7 1529.7,668.7C1531.1,668.7 1532.6,670.9 1534.0,673.7C1535.6,676.9 1537.3,707.0 1538.9,707.0C1540.3,707.0 1541.8,699.1 1543.2,692.1C1544.4,686.4 1545.5,664.5 1546.7,664.5C1550.3,664.5 1553.8,664.5 1557.4,664.5C1558.3,664.5 1559.3,653.1 1560.2,653.1C1562.1,653.1 1564.0,655.2 1565.9,655.2C1566.8,655.2 1567.8,636.1 1568.7,636.1C1570.8,636.1 1573.0,638.2 1575.1,638.2C1576.0,638.2 1577.0,619.1 1577.9,619.1C1581.7,619.1 1585.5,619.1 1589.3,619.1C1591.2,619.1 1593.1,634.6 1595.0,640.4C1595.7,642.5 1596.4,646.0 1597.1,646.0C1598.3,646.0 1599.4,633.3 1600.6,633.3C1603.4,633.3 1606.3,650.3 1609.1,650.3C1612.4,650.3 1615.8,650.3 1619.1,650.3C1621.5,650.3 1623.8,673.8 1626.2,675.1C1626.9,675.5 1627.6,675.8 1628.3,675.8C1629.5,675.8 1630.6,610.2 1631.8,610.2C1632.5,610.2 1633.3,610.3 1634.0,610.5C1634.9,610.7 1635.9,613.2 1636.8,613.2C1638.0,613.2 1639.2,613.2 1640.4,613.2"/></g>
<g font-family="&#39;DejaVu Sans&#39;, sans-serif" font-size="19.5" letter-spacing="-0.3" fill="#666"><text x="21" y="1166.2">Mar &#39;23</text>
<text x="181.9" y="1166.2" text-anchor="middle">Apr &#39;23</text>
<text x="315.2" y="1166.2" text-anchor="middle">May &#39;23</text>
<text x="453.7" y="1166.2" text-anchor="middle">Jun &#39;23</text>
<text x="586.7" y="1166.2" text-anchor="middle">Jul &#39;23</text>
<text x="725.7" y="1166.2" text-anchor="middle">Aug &#39;23</text>
<text x="862.2" y="1166.2" text-anchor="middle">Sep &#39;23</text>
<text x="995.7" y="1166.2" text-anchor="middle">Oct &#39;23</text>
<text x="1133.7" y="1166.2" text-anchor="middle">Nov &#39;23</text>
<text x="1267.2" y="1166.2" text-anchor="middle">Dec &#39;23</text>
<text x="1405.7" y="1166.2" text-anchor="middle">Jan &#39;24</text>
<text x="1544.2" y="1166.2" text-anchor="middle">Feb &#39;24</text></g>
</svg>
</body></html>
